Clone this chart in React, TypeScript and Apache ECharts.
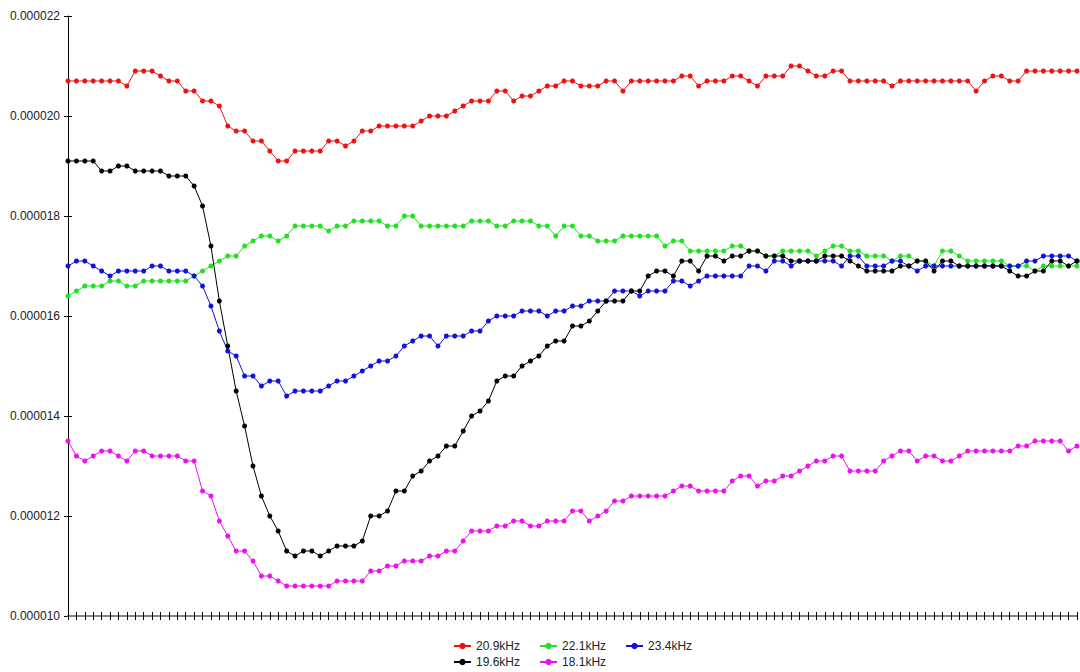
import React, { useEffect, useRef } from "react";
import * as echarts from "echarts";

// values are in units of 1e-6 (0.000001)
const categories: string[] = Array.from({ length: 121 }, (_, i) => String(i + 1));

const yTicks = [10, 12, 14, 16, 18, 20, 22];

const s209kHz = [
  20.7, 20.7, 20.7, 20.7, 20.7, 20.7, 20.7, 20.6, 20.9, 20.9,
  20.9, 20.8, 20.7, 20.7, 20.5, 20.5, 20.3, 20.3, 20.2, 19.8,
  19.7, 19.7, 19.5, 19.5, 19.3, 19.1, 19.1, 19.3, 19.3, 19.3,
  19.3, 19.5, 19.5, 19.4, 19.5, 19.7, 19.7, 19.8, 19.8, 19.8,
  19.8, 19.8, 19.9, 20.0, 20.0, 20.0, 20.1, 20.2, 20.3, 20.3,
  20.3, 20.5, 20.5, 20.3, 20.4, 20.4, 20.5, 20.6, 20.6, 20.7,
  20.7, 20.6, 20.6, 20.6, 20.7, 20.7, 20.5, 20.7, 20.7, 20.7,
  20.7, 20.7, 20.7, 20.8, 20.8, 20.6, 20.7, 20.7, 20.7, 20.8,
  20.8, 20.7, 20.6, 20.8, 20.8, 20.8, 21.0, 21.0, 20.9, 20.8,
  20.8, 20.9, 20.9, 20.7, 20.7, 20.7, 20.7, 20.7, 20.6, 20.7,
  20.7, 20.7, 20.7, 20.7, 20.7, 20.7, 20.7, 20.7, 20.5, 20.7,
  20.8, 20.8, 20.7, 20.7, 20.9, 20.9, 20.9, 20.9, 20.9, 20.9,
  20.9,
];

const s221kHz = [
  16.4, 16.5, 16.6, 16.6, 16.6, 16.7, 16.7, 16.6, 16.6, 16.7,
  16.7, 16.7, 16.7, 16.7, 16.7, 16.8, 16.9, 17.0, 17.1, 17.2,
  17.2, 17.4, 17.5, 17.6, 17.6, 17.5, 17.6, 17.8, 17.8, 17.8,
  17.8, 17.7, 17.8, 17.8, 17.9, 17.9, 17.9, 17.9, 17.8, 17.8,
  18.0, 18.0, 17.8, 17.8, 17.8, 17.8, 17.8, 17.8, 17.9, 17.9,
  17.9, 17.8, 17.8, 17.9, 17.9, 17.9, 17.8, 17.8, 17.6, 17.8,
  17.8, 17.6, 17.6, 17.5, 17.5, 17.5, 17.6, 17.6, 17.6, 17.6,
  17.6, 17.4, 17.5, 17.5, 17.3, 17.3, 17.3, 17.3, 17.3, 17.4,
  17.4, 17.3, 17.3, 17.2, 17.2, 17.3, 17.3, 17.3, 17.3, 17.2,
  17.3, 17.4, 17.4, 17.3, 17.3, 17.2, 17.2, 17.2, 17.1, 17.2,
  17.2, 17.1, 17.1, 17.0, 17.3, 17.3, 17.2, 17.1, 17.1, 17.1,
  17.1, 17.1, 17.0, 17.0, 17.0, 16.9, 17.0, 17.0, 17.0, 17.0,
  17.0,
];

const s234kHz = [
  17.0, 17.1, 17.1, 17.0, 16.9, 16.8, 16.9, 16.9, 16.9, 16.9,
  17.0, 17.0, 16.9, 16.9, 16.9, 16.8, 16.6, 16.2, 15.7, 15.3,
  15.2, 14.8, 14.8, 14.6, 14.7, 14.7, 14.4, 14.5, 14.5, 14.5,
  14.5, 14.6, 14.7, 14.7, 14.8, 14.9, 15.0, 15.1, 15.1, 15.2,
  15.4, 15.5, 15.6, 15.6, 15.4, 15.6, 15.6, 15.6, 15.7, 15.7,
  15.9, 16.0, 16.0, 16.0, 16.1, 16.1, 16.1, 16.0, 16.1, 16.1,
  16.2, 16.2, 16.3, 16.3, 16.3, 16.5, 16.5, 16.5, 16.4, 16.5,
  16.5, 16.5, 16.7, 16.7, 16.6, 16.7, 16.8, 16.8, 16.8, 16.8,
  16.8, 17.0, 17.0, 16.9, 17.1, 17.1, 17.0, 17.1, 17.1, 17.1,
  17.1, 17.1, 17.0, 17.2, 17.2, 17.0, 17.0, 17.0, 17.1, 17.1,
  17.0, 16.9, 17.0, 17.0, 17.0, 17.0, 17.0, 17.0, 17.0, 17.0,
  17.0, 17.0, 17.0, 17.0, 17.1, 17.1, 17.2, 17.2, 17.2, 17.2,
  17.1,
];

const s196kHz = [
  19.1, 19.1, 19.1, 19.1, 18.9, 18.9, 19.0, 19.0, 18.9, 18.9,
  18.9, 18.9, 18.8, 18.8, 18.8, 18.6, 18.2, 17.4, 16.3, 15.4,
  14.5, 13.8, 13.0, 12.4, 12.0, 11.7, 11.3, 11.2, 11.3, 11.3,
  11.2, 11.3, 11.4, 11.4, 11.4, 11.5, 12.0, 12.0, 12.1, 12.5,
  12.5, 12.8, 12.9, 13.1, 13.2, 13.4, 13.4, 13.7, 14.0, 14.1,
  14.3, 14.7, 14.8, 14.8, 15.0, 15.1, 15.2, 15.4, 15.5, 15.5,
  15.8, 15.8, 15.9, 16.1, 16.3, 16.3, 16.3, 16.5, 16.5, 16.8,
  16.9, 16.9, 16.8, 17.1, 17.1, 16.9, 17.2, 17.2, 17.1, 17.2,
  17.2, 17.3, 17.3, 17.2, 17.2, 17.2, 17.1, 17.1, 17.1, 17.1,
  17.2, 17.2, 17.2, 17.1, 17.0, 16.9, 16.9, 16.9, 16.9, 17.0,
  17.0, 17.1, 17.1, 16.9, 17.1, 17.1, 17.0, 17.0, 17.0, 17.0,
  17.0, 17.0, 16.9, 16.8, 16.8, 16.9, 16.9, 17.1, 17.1, 17.0,
  17.1,
];

const s181kHz = [
  13.5, 13.2, 13.1, 13.2, 13.3, 13.3, 13.2, 13.1, 13.3, 13.3,
  13.2, 13.2, 13.2, 13.2, 13.1, 13.1, 12.5, 12.4, 11.9, 11.6,
  11.3, 11.3, 11.1, 10.8, 10.8, 10.7, 10.6, 10.6, 10.6, 10.6,
  10.6, 10.6, 10.7, 10.7, 10.7, 10.7, 10.9, 10.9, 11.0, 11.0,
  11.1, 11.1, 11.1, 11.2, 11.2, 11.3, 11.3, 11.5, 11.7, 11.7,
  11.7, 11.8, 11.8, 11.9, 11.9, 11.8, 11.8, 11.9, 11.9, 11.9,
  12.1, 12.1, 11.9, 12.0, 12.1, 12.3, 12.3, 12.4, 12.4, 12.4,
  12.4, 12.4, 12.5, 12.6, 12.6, 12.5, 12.5, 12.5, 12.5, 12.7,
  12.8, 12.8, 12.6, 12.7, 12.7, 12.8, 12.8, 12.9, 13.0, 13.1,
  13.1, 13.2, 13.2, 12.9, 12.9, 12.9, 12.9, 13.1, 13.2, 13.3,
  13.3, 13.1, 13.2, 13.2, 13.1, 13.1, 13.2, 13.3, 13.3, 13.3,
  13.3, 13.3, 13.3, 13.4, 13.4, 13.5, 13.5, 13.5, 13.5, 13.3,
  13.4,
];

const seriesNames = ["20.9kHz", "22.1kHz", "23.4kHz", "19.6kHz", "18.1kHz"];
const seriesColors = ["#ee1111", "#22e022", "#1111dd", "#000000", "#ee11ee"];
const seriesData = [s209kHz, s221kHz, s234kHz, s196kHz, s181kHz];

const FONT = "'Liberation Sans', Arial, sans-serif";

export default function App() {
  const ref = useRef<HTMLDivElement>(null);

  useEffect(() => {
    document.body.style.margin = "0";
    if (!ref.current) return;
    const chart = echarts.init(ref.current, undefined, { renderer: "svg" });
    const fmt = (v: number) => (v / 1e6).toFixed(6);
    const yBase = {
      type: "value" as const,
      min: yTicks[0],
      max: yTicks[yTicks.length - 1],
      interval: 2,
      splitLine: { show: false },
    };
    const legendBase = {
      left: 453,
      orient: "horizontal",
      padding: 0,
      itemWidth: 17,
      itemHeight: 8,
      itemGap: 19,
      textStyle: { fontSize: 12, color: "#222", fontFamily: FONT },
    };
    const option: any = {
      animation: false,
      backgroundColor: "#ffffff",
      textStyle: { fontFamily: FONT },
      grid: { left: 68, right: 3, top: 16, bottom: 56, containLabel: false },
      xAxis: [
        {
          type: "category",
          data: categories,
          boundaryGap: false,
          axisLine: { show: true, lineStyle: { color: "#808080", width: 2 } },
          axisTick: { show: true, interval: 0, length: 4, lineStyle: { color: "#000", width: 1 } },
          axisLabel: { show: false },
          splitLine: { show: false },
          z: 3,
        },
        {
          type: "category",
          data: categories,
          boundaryGap: false,
          position: "bottom",
          axisLine: { show: false },
          axisTick: { show: true, inside: true, interval: 0, length: 4, lineStyle: { color: "#000", width: 1 } },
          axisLabel: { show: false },
          splitLine: { show: false },
          z: 3,
        },
      ],
      yAxis: [
        {
          ...yBase,
          axisLine: { show: true, lineStyle: { color: "#000", width: 1 } },
          axisTick: { show: true, length: 4, lineStyle: { color: "#000" } },
          axisLabel: {
            show: true,
            formatter: fmt,
            color: "#222",
            fontSize: 12,
            fontFamily: FONT,
            margin: 8,
          },
        },
        {
          ...yBase,
          position: "left",
          axisLine: { show: false },
          axisTick: { show: true, inside: true, length: 4, lineStyle: { color: "#000" } },
          axisLabel: { show: false },
        },
      ],
      legend: [
        { ...legendBase, data: seriesNames.slice(0, 3), top: 640 },
        { ...legendBase, data: seriesNames.slice(3), top: 656 },
      ],
      series: seriesNames.map((name, i) => ({
        name,
        type: "line",
        xAxisIndex: 0,
        yAxisIndex: 0,
        data: seriesData[i],
        symbol: "circle",
        symbolSize: 5,
        showSymbol: true,
        showAllSymbol: true,
        color: seriesColors[i],
        lineStyle: { width: 1, color: seriesColors[i] },
        itemStyle: { color: seriesColors[i] },
        emphasis: { disabled: true },
      })),
    };
    chart.setOption(option);
    return () => chart.dispose();
  }, []);

  return <div ref={ref} style={{ width: 1080, height: 672 }} />;
}
